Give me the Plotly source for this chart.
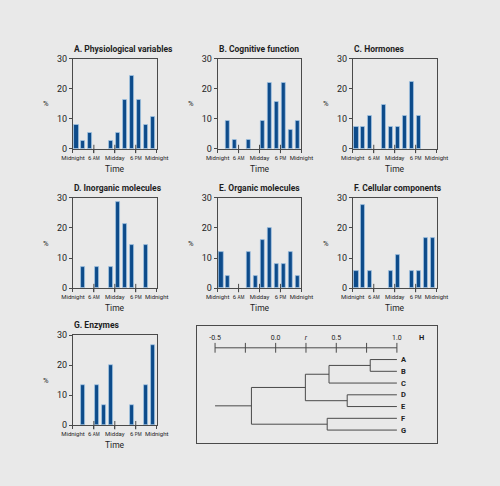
import plotly.graph_objects as go

# ---------------- data ----------------
bin_centers = [1, 3, 5, 7, 9, 11, 13, 15, 17, 19, 21, 23]   # 2-hour bins (hours)
x_tick_vals = [0, 6, 12, 18, 24]
x_tick_labels = ["Midnight", "6 <span style='font-size:4.5px'>AM</span>", "Midday",
                 "6 <span style='font-size:4.5px'>PM</span>", "Midnight"]
inner_tick_vals = [6, 12, 18]
y_tick_vals = [0, 10, 20, 30]

titles = ["A. Physiological variables", "B. Cognitive function", "C. Hormones",
          "D. Inorganic molecules", "E. Organic molecules", "F. Cellular components",
          "G. Enzymes"]

physiological = [8.1, 2.7, 5.4, 0, 0, 2.7, 5.4, 16.2, 24.5, 16.2, 8.1, 10.8]
cognitive = [0, 9.4, 3.1, 0, 3.1, 0, 9.4, 21.9, 15.6, 21.9, 6.3, 9.4]
hormones = [7.4, 7.4, 11.1, 0, 14.8, 7.4, 7.4, 11.1, 22.2, 11.1, 0, 0]
inorganic = [0, 7.1, 0, 7.1, 0, 7.1, 28.6, 21.4, 14.3, 0, 14.3, 0]
organic = [12, 4, 0, 0, 12, 4, 16, 20, 8, 8, 12, 4]
cellular = [5.6, 27.8, 5.6, 0, 0, 5.6, 11.1, 0, 5.6, 5.6, 16.7, 16.7]
enzymes = [0, 13.3, 0, 13.3, 6.7, 20, 0, 0, 6.7, 0, 13.3, 26.7]

# dendrogram (H statistic)
leaf_labels = ["A", "B", "C", "D", "E", "F", "G"]
merge_left = [0, 7, 3, 8, 5, 10]
merge_right = [1, 2, 4, 9, 6, 11]
merge_height = [0.78, 0.44, 0.59, 0.245, 0.425, -0.20]
leaf_height = 1.0
root_start = -0.5
h_ticks = [-0.5, -0.25, 0.0, 0.25, 0.5, 0.75, 1.0]
h_tick_labels = ["-0.5", "", "0.0", "<i>r</i>", "0.5", "", "1.0"]

# ---------------- layout helpers ----------------
W, H = 500, 486
BG = "#e9e9e9"
BAR = "#0d4b8a"
EDGE = "#a6c8e6"
LINE = "#4a4a4a"
TXT = "#1e1e1e"
FONT = "Roboto"


def px(x):
    return x / W


def py(y):
    return 1 - y / H


series = [physiological, cognitive, hormones, inorganic, organic, cellular, enzymes]
col_x = [64, 216, 358]
row_y = [55, 197, 337]
pw, ph = 88, 92

fig = go.Figure()
annotations = []
layout_axes = {}

for i, (vals, title) in enumerate(zip(series, titles)):
    r, c = divmod(i, 3)
    x0, y0 = col_x[c], row_y[r]
    n = i + 1
    xa = "x" if n == 1 else f"x{n}"
    ya = "y" if n == 1 else f"y{n}"
    fig.add_trace(go.Bar(
        x=bin_centers, y=[v if v else None for v in vals], width=1.15,
        marker=dict(color=BAR, line=dict(color=EDGE, width=0.7)),
        xaxis=xa, yaxis=ya, showlegend=False, hoverinfo="skip"))
    # inner half of the crossing x ticks
    fig.add_trace(go.Scatter(
        x=inner_tick_vals, y=[0] * len(inner_tick_vals), mode="markers",
        marker=dict(symbol="line-ns-open", size=6, color=LINE,
                    line=dict(color=LINE, width=1)),
        xaxis=xa, yaxis=ya, showlegend=False, hoverinfo="skip", cliponaxis=False))
    xkey = "xaxis" if n == 1 else f"xaxis{n}"
    ykey = "yaxis" if n == 1 else f"yaxis{n}"
    layout_axes[xkey] = dict(
        domain=[px(x0), px(x0 + pw)], anchor=ya, range=[0, 24],
        tickvals=x_tick_vals, ticktext=x_tick_labels, ticks="outside", ticklen=3,
        tickcolor=LINE, tickwidth=1, showline=True, mirror=True, linecolor=LINE,
        linewidth=1, showgrid=False, zeroline=False, fixedrange=True,
        tickfont=dict(family=FONT, size=6, color=TXT), tickangle=0)
    layout_axes[ykey] = dict(
        domain=[py(y0 + ph), py(y0)], anchor=xa, range=[0, 30],
        tickvals=y_tick_vals, ticks="outside", ticklen=3, tickcolor=LINE, tickwidth=1,
        showline=True, mirror=True, linecolor=LINE, linewidth=1, showgrid=False,
        zeroline=False, fixedrange=True, tickfont=dict(family=FONT, size=9, color=TXT))
    annotations.append(dict(text=f"<b>{title}</b>", x=px(x0 - 1), y=py(y0 - 10),
                            xref="paper", yref="paper", xanchor="left", yanchor="middle",
                            showarrow=False, font=dict(family=FONT, size=8.5, color=TXT)))
    annotations.append(dict(text="%", x=px(x0 - 28), y=py(y0 + ph / 2),
                            xref="paper", yref="paper", xanchor="center", yanchor="middle",
                            showarrow=False, font=dict(family=FONT, size=7.5, color=TXT)))
    annotations.append(dict(text="Time", x=px(x0 + pw / 2), y=py(y0 + ph + 20),
                            xref="paper", yref="paper", xanchor="center", yanchor="middle",
                            showarrow=False, font=dict(family=FONT, size=8.5, color=TXT)))

# ---------------- dendrogram ----------------
bx0, bx1, by0, by1 = 194, 446, 328, 447
leaf_px0, leaf_dy = 362, 12
sx_left, sx_right = 213.3, 404.3
scale = (sx_right - sx_left) / (h_ticks[-1] - h_ticks[0])
xr = [h_ticks[0] - (sx_left - bx0) / scale, h_ticks[-1] + (bx1 - sx_right) / scale]
yr = [(by1 - leaf_px0) / leaf_dy, (by0 - leaf_px0) / leaf_dy]

node_x = {k: leaf_height for k in range(len(leaf_labels))}
node_y = {k: float(k) for k in range(len(leaf_labels))}
lx, ly = [], []
for j, (a, b, h) in enumerate(zip(merge_left, merge_right, merge_height)):
    nid = len(leaf_labels) + j
    for ch in (a, b):
        lx += [node_x[ch], h, None]
        ly += [node_y[ch], node_y[ch], None]
    lx += [h, h, None]
    ly += [node_y[a], node_y[b], None]
    node_x[nid] = h
    node_y[nid] = (node_y[a] + node_y[b]) / 2
root = len(leaf_labels) + len(merge_height) - 1
lx += [root_start, node_x[root]]
ly += [node_y[root], node_y[root]]

fig.add_trace(go.Scatter(x=lx, y=ly, mode="lines", line=dict(color=LINE, width=1),
                         xaxis="x8", yaxis="y8", showlegend=False, hoverinfo="skip"))
scale_y = -1.0
fig.add_trace(go.Scatter(x=[h_ticks[0], h_ticks[-1]], y=[scale_y, scale_y], mode="lines",
                         line=dict(color=LINE, width=1), xaxis="x8", yaxis="y8",
                         showlegend=False, hoverinfo="skip"))
fig.add_trace(go.Scatter(x=h_ticks, y=[scale_y] * len(h_ticks), mode="markers",
                         marker=dict(symbol="line-ns-open", size=7, color=LINE,
                                     line=dict(color=LINE, width=1)),
                         xaxis="x8", yaxis="y8", showlegend=False, hoverinfo="skip",
                         cliponaxis=False))
fig.add_trace(go.Scatter(x=h_ticks, y=[scale_y - 0.85] * len(h_ticks), mode="text",
                         text=h_tick_labels, textposition="middle center",
                         textfont=dict(family=FONT, size=7, color=TXT),
                         xaxis="x8", yaxis="y8", showlegend=False, hoverinfo="skip"))
annotations.append(dict(text="<b>H</b>", x=1.2, y=scale_y - 0.85, xref="x8", yref="y8",
                        xanchor="center", yanchor="middle", showarrow=False,
                        font=dict(family=FONT, size=7.5, color=TXT)))
for k, lab in enumerate(leaf_labels):
    annotations.append(dict(text=f"<b>{lab}</b>", x=leaf_height + 0.018, y=k,
                            xref="x8", yref="y8", xanchor="left", yanchor="middle",
                            showarrow=False, font=dict(family=FONT, size=7.5, color=TXT)))

layout_axes["xaxis8"] = dict(domain=[px(bx0), px(bx1)], anchor="y8", range=xr,
                             showline=True, mirror=True, linecolor=LINE, linewidth=1.2,
                             showticklabels=False, ticks="", showgrid=False,
                             zeroline=False, fixedrange=True)
layout_axes["yaxis8"] = dict(domain=[py(by1), py(by0)], anchor="x8", range=yr,
                             showline=True, mirror=True, linecolor=LINE, linewidth=1.2,
                             showticklabels=False, ticks="", showgrid=False,
                             zeroline=False, fixedrange=True)

fig.update_layout(
    width=W, height=H, margin=dict(l=0, r=0, t=0, b=0),
    paper_bgcolor=BG, plot_bgcolor=BG, bargap=0,
    font=dict(family=FONT, color=TXT), annotations=annotations,
    **layout_axes)

fig.write_html("out.html", config={"displayModeBar": False},
               post_script="document.body.style.margin='0';")
